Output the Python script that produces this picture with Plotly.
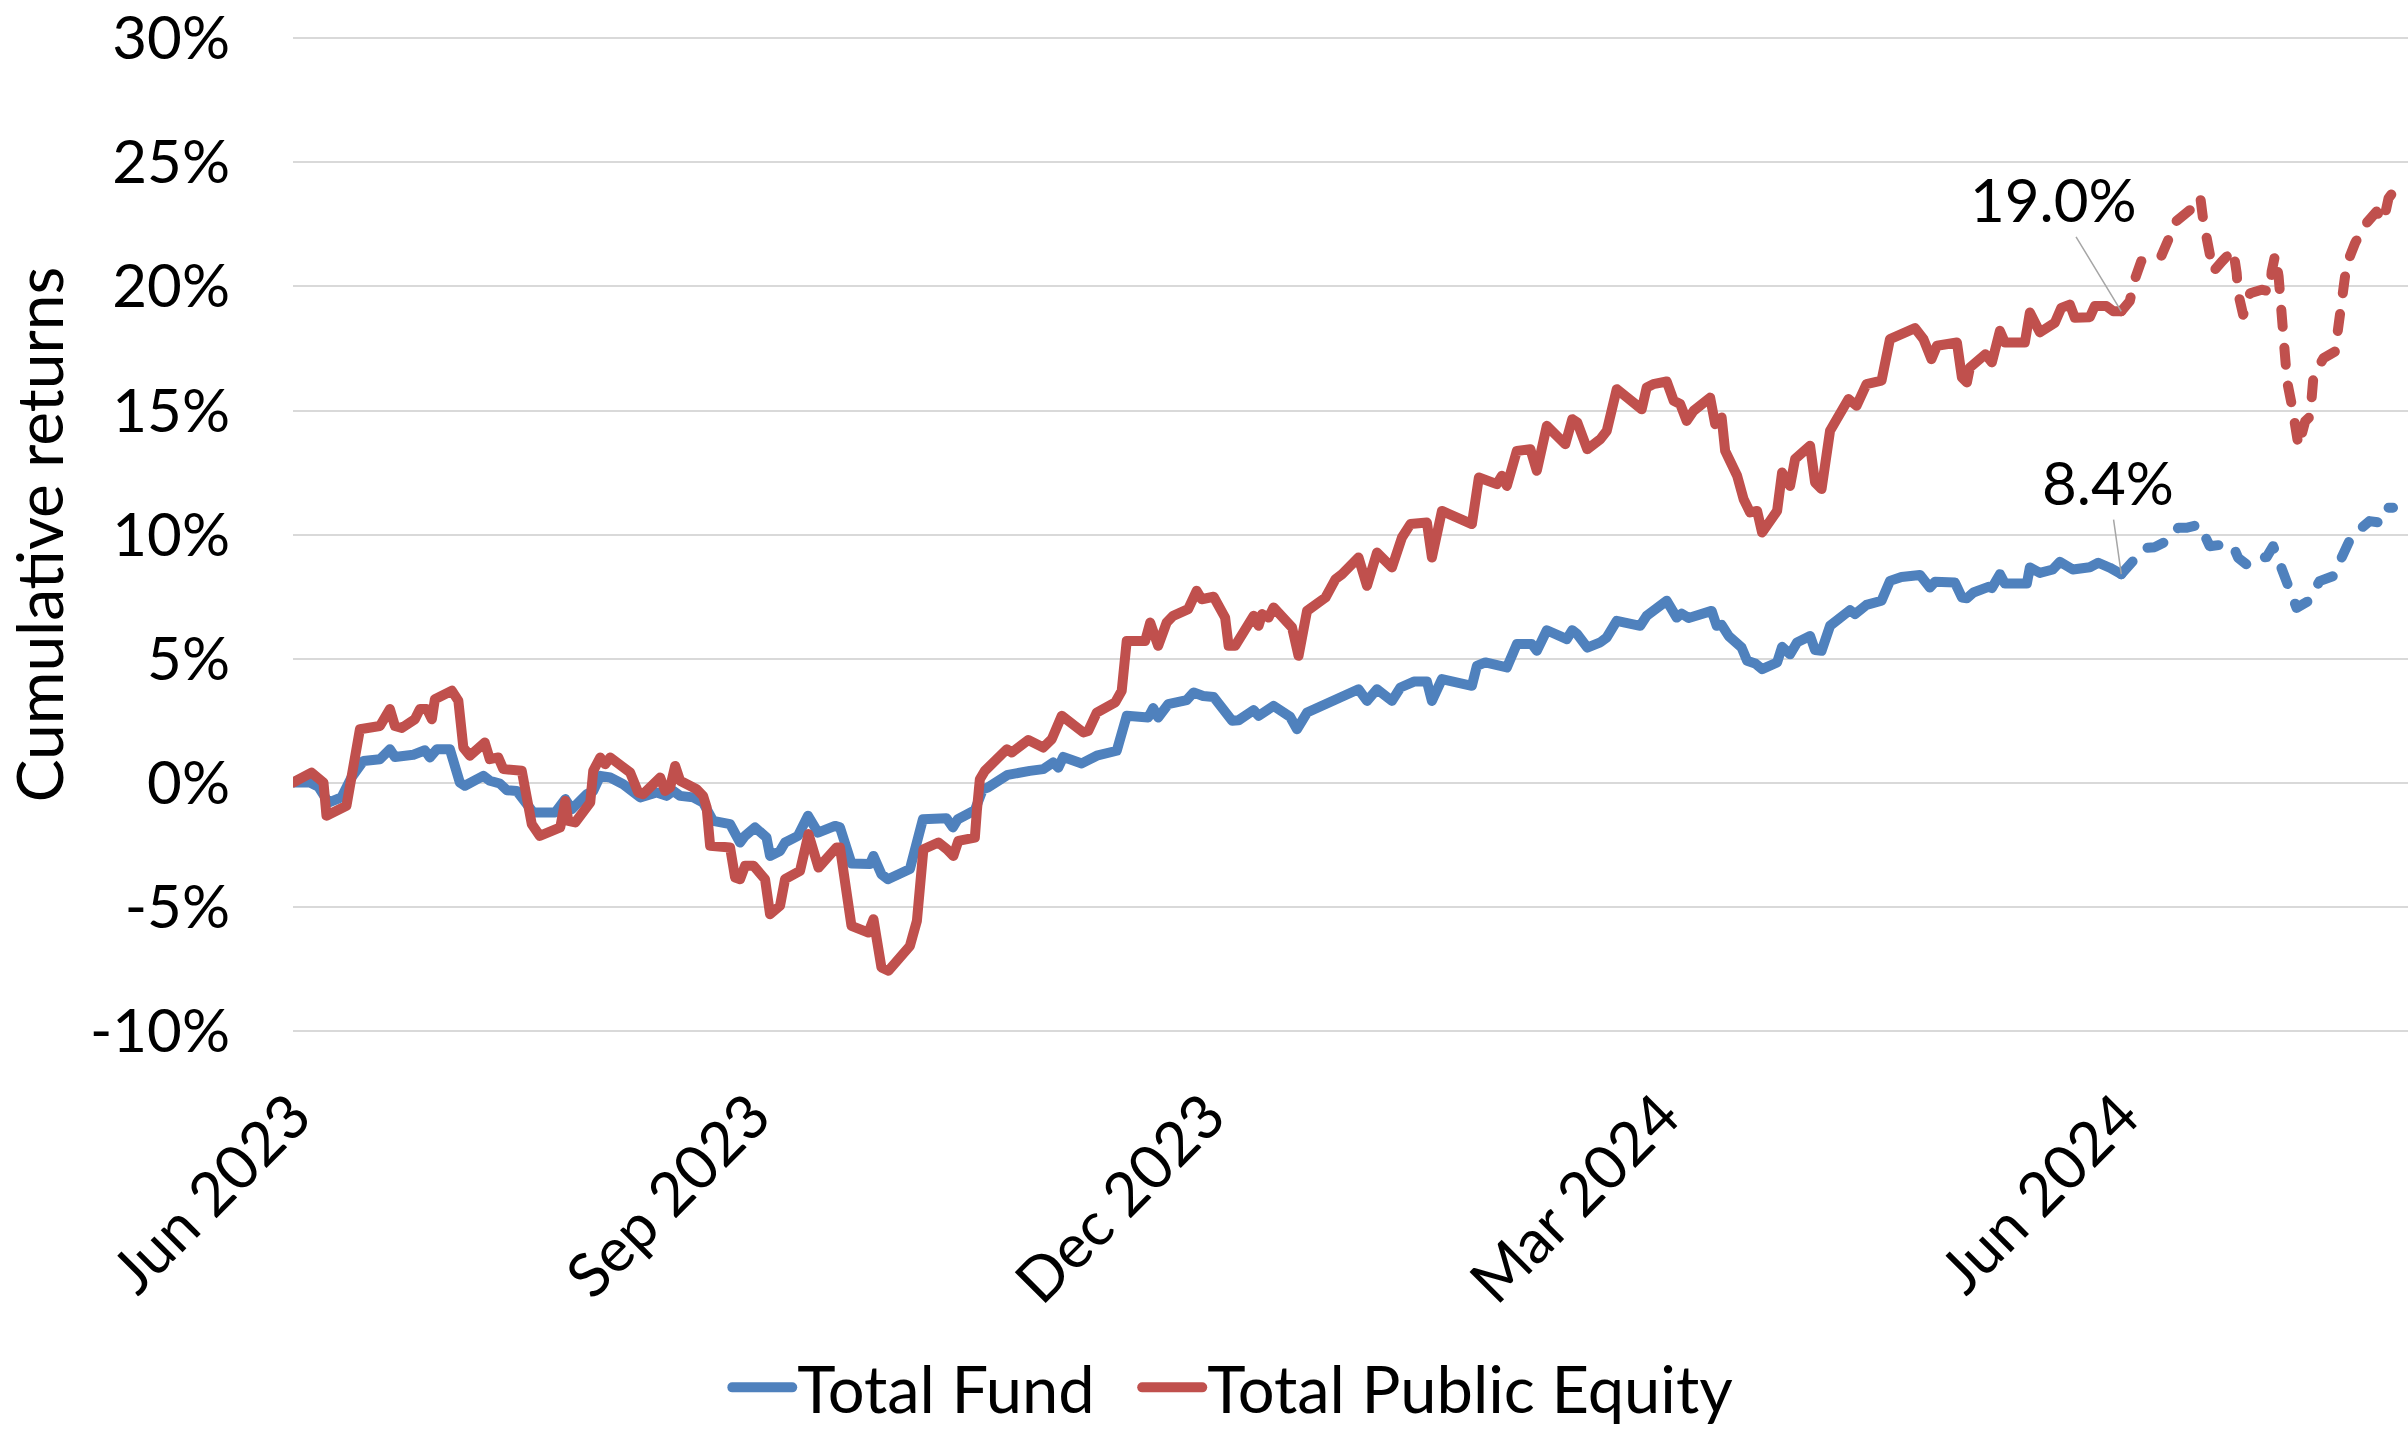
import pandas as pd
import plotly.graph_objects as go

# ---------------- data ----------------
start_date = "2023-06-01"

# Total Fund, days since start_date and cumulative return (%)
fund_days_actual = [
    0, 3.4, 5.1, 7.1, 9.7, 11.7, 14.1, 17.4, 19.4, 20.4, 24.1, 26.4, 27.4, 28.8, 31.4,
    33.4, 34.4, 38.1, 39.4, 41.4, 42.8, 44.8, 48.1, 52.5, 54.5, 55.8, 58.8, 60.1, 61.5,
    63.5, 66.1, 69.5, 72.8, 74.8, 76.1, 77.5, 80.1, 82.1, 84.1, 87.5, 89.5, 90.5, 92.5,
    94.8, 95.5, 97.5, 98.5, 101.1, 103.1, 105.1, 108.5, 109.5, 111.8, 115.5, 116.2,
    117.8, 119.1, 122.1, 123.5, 126.1, 130.8, 132.1, 133.1, 136.5, 138.1, 139.1, 140.8,
    143.1, 147.5, 150.2, 152.2, 153.2, 154.2, 157.9, 160.9, 164.9, 166.9, 171.2, 172.2,
    173.2, 175.2, 178.9, 180.3, 182.2, 184.3, 186.6, 188.0, 189.3, 192.3, 193.3, 196.3,
    199.6, 201.0, 203.0, 207.0, 209.4, 213.3, 215.0, 217.0, 220.0, 221.7, 224.4, 227.0,
    228.0, 230.0, 236.0, 237.0, 238.7, 243.0, 245.0, 248.0, 249.0, 251.0, 255.0, 256.1,
    257.1, 259.1, 261.7, 263.0, 265.0, 269.7, 271.0, 275.0, 277.0, 278.0, 279.4, 284.0,
    285.0, 286.0, 287.4, 290.0, 291.1, 292.7, 294.1, 297.1, 298.1, 299.7, 301.1, 303.7,
    304.7, 306.0, 307.7, 311.7, 312.7, 315.0, 318.0, 319.7, 322.0, 325.7, 327.7, 328.7,
    332.7, 334.1, 335.1, 336.4, 339.4, 340.1, 341.7, 342.7, 347.1, 347.7, 349.7, 352.3,
    353.7, 356.3, 359.7, 361.4, 363.7, 366.0,
]
fund_values_actual = [
    0.00, 0.00, -0.17, -0.81, -0.60, 0.20, 0.87, 0.94, 1.34, 1.03, 1.12, 1.30, 1.01, 1.34, 1.34,
    0.00, -0.13, 0.27, 0.07, -0.04, -0.31, -0.34, -1.21, -1.21, -0.67, -1.08, -0.47, -0.34, 0.27,
    0.20, -0.07, -0.60, -0.40, -0.54, -0.34, -0.54, -0.60, -0.81, -1.55, -1.68, -2.42, -2.15, -1.81,
    -2.22, -2.96, -2.76, -2.42, -2.15, -1.34, -2.02, -1.75, -1.81, -3.27, -3.29, -2.96,
    -3.70, -3.90, -3.59, -3.49, -1.48, -1.44, -1.81, -1.48, -1.12, -0.27, -0.20, 0.07,
    0.31, 0.47, 0.54, 0.81, 0.60, 1.03, 0.77, 1.08, 1.28, 2.69, 2.62, 3.00,
    2.62, 3.16, 3.32, 3.63, 3.49, 3.45, 2.82, 2.49, 2.51, 2.92, 2.69, 3.09,
    2.65, 2.15, 2.82, 3.16, 3.43, 3.76, 3.29, 3.76, 3.29, 3.83, 4.07, 4.07,
    3.29, 4.17, 3.90, 4.70, 4.84, 4.64, 5.58, 5.58, 5.31, 6.14, 5.78, 6.14,
    5.98, 5.44, 5.65, 5.85, 6.52, 6.32, 6.72, 7.33, 6.65, 6.81, 6.63, 6.92,
    6.32, 6.36, 5.91, 5.44, 4.91, 4.80, 4.57, 4.84, 5.47, 5.17, 5.65, 5.91,
    5.34, 5.31, 6.32, 6.95, 6.79, 7.16, 7.33, 8.13, 8.29, 8.37, 7.86, 8.09,
    8.06, 7.46, 7.43, 7.66, 7.89, 7.84, 8.40, 8.02, 8.02, 8.67, 8.45, 8.59,
    8.90, 8.59, 8.68, 8.86, 8.66, 8.40,
]
fund_days_recent = [
    366.0, 368.7, 370.7, 372.7, 375.7, 377.4, 379.0, 381.7, 383.7, 386.7, 388.4, 389.4,
    391.1, 392.4, 395.1, 396.4, 397.4, 398.4, 399.4, 401.1, 403.4, 405.7, 408.4, 410.4,
    412.1, 415.7, 418.1, 419.4, 420.4,
]
fund_values_recent = [
    8.40, 9.06, 9.46, 9.49, 9.80, 10.27, 10.27, 10.40, 9.53, 9.60, 9.53, 9.06,
    8.79, 9.03, 9.09, 9.53, 9.00, 8.66, 7.92, 7.04, 7.31, 8.12, 8.32, 9.26,
    9.93, 10.54, 10.47, 11.08, 11.08,
]

# Total Public Equity, days since start_date and cumulative return (%)
equity_days_actual = [
    0, 3.7, 6.1, 6.7, 10.7, 13.4, 17.4, 19.4, 20.4, 21.8, 24.4, 25.4, 26.8, 27.8, 28.4,
    31.8, 33.1, 34.1, 35.4, 38.4, 39.4, 41.1, 42.1, 45.8, 47.8, 49.4, 53.5, 54.5, 55.1,
    56.5, 59.5, 60.1, 61.5, 62.5, 63.5, 67.5, 69.1, 70.1, 73.5, 74.5, 75.5, 76.5, 77.5,
    80.8, 82.1, 82.8, 83.5, 87.5, 88.5, 89.5, 90.5, 92.2, 94.5, 95.5, 97.5, 98.5, 101.5,
    103.2, 105.2, 108.8, 109.5, 111.8, 115.2, 116.2, 117.8, 119.2, 123.5, 124.9, 126.2,
    129.2, 130.9, 132.2, 133.2, 136.5, 136.9, 137.5, 138.5, 139.9, 142.9, 143.9, 147.2,
    150.2, 151.9, 153.9, 156.2, 158.2, 159.2, 160.9, 164.6, 165.9, 166.9, 170.6, 171.6,
    173.2, 174.9, 176.2, 179.2, 180.9, 181.9, 184.3, 186.6, 187.3, 188.6, 192.3, 193.3,
    194.0, 195.3, 196.3, 200.0, 201.3, 203.0, 206.7, 208.7, 210.0, 213.3, 215.0, 217.0,
    220.0, 222.0, 223.7, 227.0, 228.0, 230.0, 236.0, 237.4, 241.0, 242.0, 243.0, 245.0,
    247.7, 249.0, 251.0, 254.7, 256.1, 257.1, 259.1, 261.7, 263.0, 265.0, 266.7, 270.0,
    271.0, 272.3, 275.0, 276.4, 277.7, 279.0, 280.4, 283.7, 284.7, 286.0, 286.7, 289.1,
    290.4, 291.7, 293.1, 294.1, 297.1, 298.1, 299.7, 300.7, 303.7, 304.7, 306.0, 307.7,
    311.4, 313.0, 315.0, 318.0, 319.7, 324.7, 326.4, 328.0, 329.1, 333.1, 334.1, 335.1,
    335.7, 338.8, 340.1, 341.7, 342.7, 346.7, 347.7, 349.7, 352.7, 354.0, 355.7, 356.7,
    359.7, 360.7, 363.0, 364.4, 366.0,
]
equity_values_actual = [
    0.00, 0.40, 0.00, -1.34, -0.94, 2.15, 2.28, 2.96, 2.28, 2.20, 2.55, 2.96, 2.96, 2.55, 3.36,
    3.70, 3.30, 1.41, 1.08, 1.61, 0.94, 1.01, 0.54, 0.47, -1.68, -2.15, -1.81, -0.74, -1.55,
    -1.61, -0.81, 0.47, 1.01, 0.74, 1.01, 0.40, -0.40, -0.47, 0.20, -0.34, -0.20, 0.67, 0.07,
    -0.27, -0.54, -1.00, -2.55, -2.62, -3.83, -3.90, -3.36, -3.36, -3.90, -5.31, -4.97, -3.90, -3.56,
    -2.08, -3.43, -2.62, -2.62, -5.78, -6.05, -5.51, -7.46, -7.59, -6.59, -5.58, -2.69,
    -2.42, -2.69, -2.96, -2.35, -2.22, -1.14, 0.13, 0.47, 0.74, 1.34, 1.21, 1.71,
    1.41, 1.75, 2.69, 2.35, 2.02, 2.08, 2.82, 3.23, 3.70, 5.71, 5.71, 6.45,
    5.51, 6.45, 6.72, 6.99, 7.73, 7.39, 7.49, 6.65, 5.51, 5.51, 6.72, 6.32,
    6.79, 6.65, 7.06, 6.25, 5.11, 6.92, 7.46, 8.20, 8.40, 9.07, 7.93, 9.27,
    8.67, 9.88, 10.42, 10.48, 9.07, 10.95, 10.42, 12.30, 12.03, 12.37, 11.96, 13.37,
    13.44, 12.57, 14.38, 13.64, 14.65, 14.52, 13.44, 13.84, 14.18, 15.86, 15.59, 15.05,
    15.93, 16.06, 16.17, 15.39, 15.26, 14.58, 14.99, 15.52, 14.45, 14.72, 13.37, 12.37,
    11.42, 10.89, 10.95, 10.08, 10.95, 12.50, 11.96, 13.04, 13.58, 12.10, 11.83, 14.18,
    15.46, 15.19, 16.06, 16.20, 17.88, 18.32, 17.88, 17.07, 17.61, 17.74, 16.33, 16.13,
    16.73, 17.27, 16.94, 18.21, 17.74, 17.74, 18.95, 18.15, 18.54, 19.14, 19.27, 18.74,
    18.76, 19.21, 19.21, 19.00, 19.00,
]
equity_days_recent = [
    366.0, 367.7, 368.7, 370.0, 374.0, 375.4, 377.0, 379.8, 381.8, 382.4, 383.4, 384.4,
    386.1, 388.4, 389.1, 389.4, 390.4, 391.4, 391.8, 394.1, 395.8, 396.1, 396.8, 397.5,
    397.8, 398.2, 398.5, 399.2, 400.2, 400.8, 401.5, 402.8, 403.8, 404.5, 406.5, 408.8,
    409.8, 411.1, 412.8, 414.8, 417.1, 418.5, 419.5, 420.5,
]
equity_values_recent = [
    19.00, 19.41, 20.28, 21.02, 21.22, 21.96, 22.63, 23.09, 23.63, 22.69, 21.75, 20.60,
    21.00, 21.48, 20.54, 19.73, 18.86, 19.46, 19.73, 19.87, 19.80, 20.60, 21.28, 20.40,
    19.53, 18.66, 17.78, 16.17, 15.16, 14.42, 13.55, 14.56, 14.76, 16.44, 17.11, 17.38,
    19.13, 20.87, 21.75, 22.49, 23.02, 22.62, 23.56, 23.83,
]

series_names = ["Total Fund", "Total Public Equity"]
x_tick_dates = ["2023-06-01", "2023-09-01", "2023-12-01", "2024-03-01", "2024-06-01"]
x_tick_labels = ["Jun 2023", "Sep 2023", "Dec 2023", "Mar 2024", "Jun 2024"]
y_tick_values = [-10, -5, 0, 5, 10, 15, 20, 25, 30]
y_tick_labels = ["-10%", "-5%", "0%", "5%", "10%", "15%", "20%", "25%", "30%"]
x_range_days = [0, 423.4]
y_range = [-10.1, 30.1]

# ---------------- styling ----------------
BLUE = "#4F81BD"
RED = "#C0504D"
FONT = "Lato"
FS = 60
LW = 10
DASH = "17px,21px"

t0 = pd.Timestamp(start_date)


def to_dates(days):
    return t0 + pd.to_timedelta(pd.Series(days, dtype=float), unit="D")


fig = go.Figure()
fig.add_trace(go.Scatter(x=to_dates(fund_days_actual), y=fund_values_actual, mode="lines",
                         name=series_names[0], line=dict(color=BLUE, width=LW),
                         legendgroup="fund", legendwidth=335))
fig.add_trace(go.Scatter(x=to_dates(fund_days_recent), y=fund_values_recent, mode="lines",
                         name=series_names[0], line=dict(color=BLUE, width=LW, dash=DASH),
                         legendgroup="fund", showlegend=False))
fig.add_trace(go.Scatter(x=to_dates(equity_days_actual), y=equity_values_actual, mode="lines",
                         name=series_names[1], line=dict(color=RED, width=LW),
                         legendgroup="equity"))
fig.add_trace(go.Scatter(x=to_dates(equity_days_recent), y=equity_values_recent, mode="lines",
                         name=series_names[1], line=dict(color=RED, width=LW, dash=DASH),
                         legendgroup="equity", showlegend=False))

end_fund_x = to_dates([fund_days_actual[-1]]).iloc[0]
end_eq_x = to_dates([equity_days_actual[-1]]).iloc[0]
fig.add_annotation(x=end_eq_x, y=equity_values_actual[-1], text=f"{equity_values_actual[-1]:.1f}%",
                   showarrow=True, arrowhead=0, arrowwidth=1.5, arrowcolor="#A6A6A6",
                   ax=-68, ay=-112, standoff=0, font=dict(family=FONT, size=FS, color="black"))
fig.add_annotation(x=end_fund_x, y=fund_values_actual[-1], text=f"{fund_values_actual[-1]:.1f}%",
                   showarrow=True, arrowhead=0, arrowwidth=1.5, arrowcolor="#A6A6A6",
                   ax=-13, ay=-92, standoff=0, font=dict(family=FONT, size=FS, color="black"))

x_range = list(to_dates(x_range_days))
fig.update_layout(
    width=2408, height=1432,
    margin=dict(l=293, r=0, t=36, b=399),
    paper_bgcolor="white", plot_bgcolor="white",
    font=dict(family=FONT, size=FS, color="black"),
    showlegend=True,
    legend=dict(orientation="h", xref="container", yref="container", x=0.302, y=0.031,
                xanchor="left", yanchor="middle", font=dict(family=FONT, size=65, color="black"),
                itemwidth=60, bgcolor="rgba(0,0,0,0)"),
    xaxis=dict(type="date", range=x_range, tickvals=x_tick_dates, ticktext=x_tick_labels,
               tickangle=-45, showgrid=False, zeroline=False, showline=False, ticks="",
               ticklabelstandoff=34, tickfont=dict(family=FONT, size=61, color="black")),
    yaxis=dict(range=y_range, tickvals=y_tick_values, ticktext=y_tick_labels,
               showgrid=True, gridcolor="#D9D9D9", gridwidth=2, zeroline=False, showline=False,
               ticks="", ticklabelstandoff=62, tickfont=dict(family=FONT, size=FS, color="black"),
               title=dict(text="Cumulative returns", standoff=10,
                          font=dict(family=FONT, size=64, color="black"))),
)

post = """
document.documentElement.style.margin='0';
document.body.style.margin='0';
document.body.style.overflow='hidden';
var gd = document.getElementById('{plot_id}');
function roundCaps(){
  gd.querySelectorAll('path.js-line').forEach(function(p){
    p.style.strokeLinecap='round'; p.style.strokeLinejoin='round';
  });
}
roundCaps();
gd.on('plotly_afterplot', roundCaps);
"""

fig.write_html("out.html", post_script=post, config={"displayModeBar": False})
